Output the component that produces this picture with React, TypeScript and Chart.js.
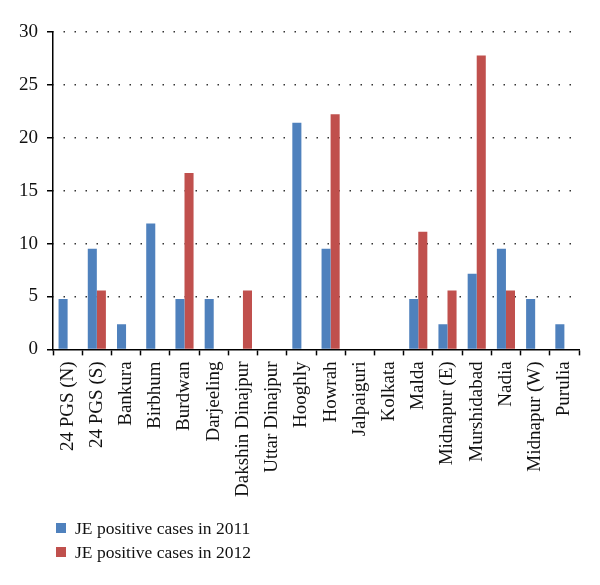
import React, { useEffect, useRef } from "react";
import { Chart, registerables } from "chart.js";

Chart.register(...registerables);

const districts = [
  "24 PGS (N)", "24 PGS (S)", "Bankura", "Birbhum", "Burdwan", "Darjeeling",
  "Dakshin Dinajpur", "Uttar Dinajpur", "Hooghly", "Howrah", "Jalpaiguri",
  "Kolkata", "Malda", "Midnapur (E)", "Murshidabad", "Nadia", "Midnapur (W)", "Purulia",
];

const cases2011 = [4.76, 9.52, 2.38, 11.9, 4.76, 4.76, 0, 0, 21.43, 9.52, 0, 0, 4.76, 2.38, 7.14, 9.52, 4.76, 2.38];
const cases2012 = [0, 5.56, 0, 0, 16.67, 0, 5.56, 0, 0, 22.22, 0, 0, 11.11, 5.56, 27.78, 5.56, 0, 0];

const seriesLabels = ["JE positive cases in 2011", "JE positive cases in 2012"];
const seriesColors = ["#4F81BD", "#C0504D"];
const yTicks = [0, 5, 10, 15, 20, 25, 30];

const FONT = '"Liberation Serif", "Times New Roman", serif';

const legendPlugin = {
  id: "customLegend",
  afterDraw(chart: any) {
    const ctx = chart.ctx;
    ctx.save();
    chart.data.datasets.forEach((ds: any, i: number) => {
      const y = 528 + i * 24;
      ctx.fillStyle = ds.backgroundColor;
      ctx.fillRect(56, y - 5, 10, 10);
      ctx.fillStyle = "#111";
      ctx.font = `17.5px ${FONT}`;
      ctx.textBaseline = "middle";
      ctx.textAlign = "left";
      ctx.fillText(ds.label, 75, y + 1);
    });
    ctx.restore();
  },
};

export default function App() {
  const ref = useRef<HTMLCanvasElement>(null);
  useEffect(() => {
    document.body.style.margin = "0";
    const chart = new Chart(ref.current!, {
      type: "bar",
      data: {
        labels: districts,
        datasets: [
          { label: seriesLabels[0], data: cases2011, backgroundColor: seriesColors[0], borderWidth: 0 },
          { label: seriesLabels[1], data: cases2012, backgroundColor: seriesColors[1], borderWidth: 0 },
        ],
      },
      options: {
        responsive: false,
        animation: false,
        layout: { padding: { top: 32, left: 10, right: 21, bottom: 82 } },
        plugins: { legend: { display: false }, tooltip: { enabled: false } },
        datasets: { bar: { categoryPercentage: 0.62, barPercentage: 1 } },
        scales: {
          x: {
            grid: { display: true, drawOnChartArea: false, drawTicks: true, tickLength: 6, tickColor: "#000", tickWidth: 1.5, offset: true },
            border: { display: true, color: "#000", width: 1.5 },
            ticks: {
              autoSkip: false,
              maxRotation: 90,
              minRotation: 90,
              padding: 6,
              color: "#111",
              font: { family: FONT, size: 19 },
            },
          },
          y: {
            min: 0,
            max: 30,
            afterBuildTicks: (axis: any) => {
              axis.ticks = yTicks.map((v) => ({ value: v }));
            },
            grid: {
              color: (c: any) => (c.tick && c.tick.value === 0 ? "rgba(0,0,0,0)" : "#333"),
              lineWidth: 1.5,
              drawTicks: true,
              tickLength: 6,
              tickColor: "#000",
              tickWidth: 1.5,
            },
            border: { display: true, color: "#000", width: 1.5, dash: [1.5, 9.5], dashOffset: 1 },
            ticks: {
              padding: 9,
              color: "#111",
              font: { family: FONT, size: 19 },
            },
          },
        },
      },
      plugins: [legendPlugin],
    });
    return () => chart.destroy();
  }, []);
  return (
    <div style={{ width: 600, height: 585 }}>
      <canvas ref={ref} width={600} height={585} />
    </div>
  );
}
